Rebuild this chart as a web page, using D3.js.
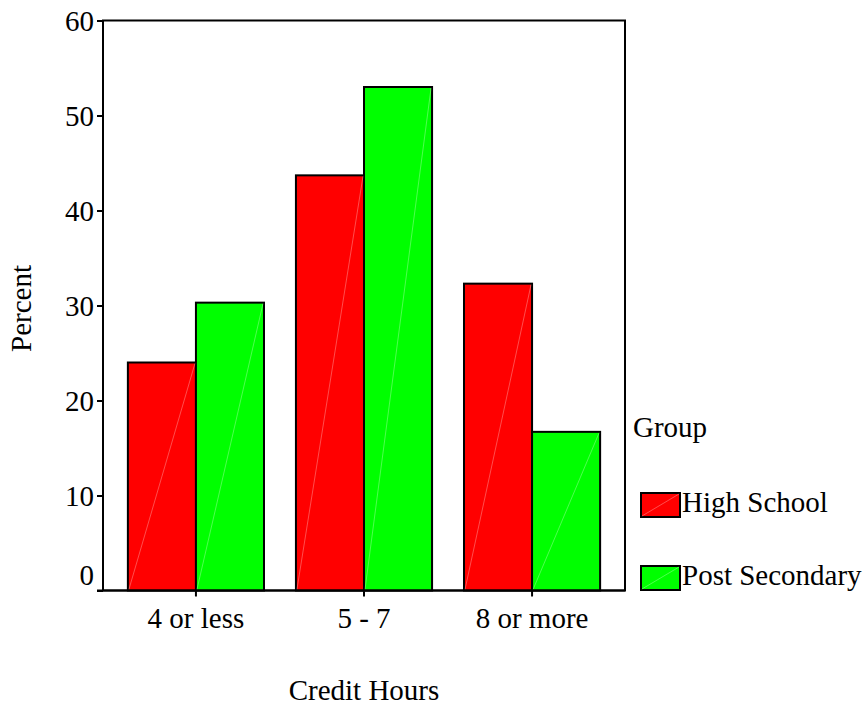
<!DOCTYPE html>
<html><head><meta charset="utf-8">
<script src="https://cdn.jsdelivr.net/npm/d3@7"></script>
<style>body{margin:0;background:#fff}svg{display:block}text{font-family:"Liberation Serif","Times New Roman",serif;fill:#000}</style>
</head><body><svg id="c" width="864" height="707"></svg>
<script>
const categories = ["4 or less", "5 - 7", "8 or more"];
const groups = ["High School", "Post Secondary"];
const highSchool = [24.0, 43.7, 32.3];
const postSecondary = [30.3, 53.0, 16.7];
const yTicks = [0, 10, 20, 30, 40, 50, 60];
const colors = ["#ff0000", "#00ff00"];

const svg = d3.select("#c");
const L = 103, R = 625, T = 20.5, B = 590.5;
const fs = 29;

const x = d3.scaleBand().domain(categories).range([L, R]).paddingInner(0.19).paddingOuter(0.148);
const xi = d3.scaleBand().domain(groups).range([0, x.bandwidth()]);
const y = d3.scaleLinear().domain([0, 60]).range([B, T]);

const series = [highSchool, postSecondary];
const data = [];
categories.forEach((c, i) => groups.forEach((g, j) => data.push({c, g, j, v: series[j][i]})));

// frame
svg.append("rect").attr("x", L).attr("y", T).attr("width", R - L).attr("height", B - T)
  .attr("fill", "none").attr("stroke", "#000").attr("stroke-width", 2);

// bars
const bars = svg.append("g");
bars.selectAll("rect").data(data).join("rect")
  .attr("x", d => x(d.c) + xi(d.g))
  .attr("y", d => y(d.v))
  .attr("width", xi.bandwidth())
  .attr("height", d => y(0) - y(d.v))
  .attr("fill", d => colors[d.j])
  .attr("stroke", "#000").attr("stroke-width", 2);
bars.selectAll("line").data(data).join("line")
  .attr("x1", d => x(d.c) + xi(d.g) + 1)
  .attr("y1", y(0) - 1)
  .attr("x2", d => x(d.c) + xi(d.g) + xi.bandwidth() - 1)
  .attr("y2", d => y(d.v) + 1)
  .attr("stroke", "#fff").attr("stroke-opacity", 0.3).attr("stroke-width", 1);

// y axis
const yAxis = d3.axisLeft(y).tickValues(yTicks).tickSize(6).tickPadding(3).tickFormat(d3.format("d"));
const gy = svg.append("g").attr("transform", `translate(${L},0)`).call(yAxis);
gy.select(".domain").remove();
gy.selectAll(".tick line").attr("stroke", "#000").attr("stroke-width", 2);
gy.selectAll(".tick text").attr("font-size", fs).attr("font-family", "Liberation Serif")
  .attr("dy", d => d === 0 ? "-0.2em" : "0.33em");

// x axis
const xAxis = d3.axisBottom(x).tickSize(6).tickPadding(5);
const gx = svg.append("g").attr("transform", `translate(0,${B})`).call(xAxis);
gx.select(".domain").remove();
gx.selectAll(".tick line").attr("stroke", "#000").attr("stroke-width", 2);
gx.selectAll(".tick text").attr("font-size", fs).attr("font-family", "Liberation Serif").attr("dy", "0.93em");
svg.append("line").attr("x1", L - 6).attr("x2", R).attr("y1", B).attr("y2", B)
  .attr("stroke", "#000").attr("stroke-width", 2);

// axis titles
svg.append("text").attr("transform", `translate(31,${(T + B) / 2 + 3}) rotate(-90)`)
  .attr("text-anchor", "middle").attr("font-size", fs).text("Percent");
svg.append("text").attr("x", (L + R) / 2).attr("y", 700)
  .attr("text-anchor", "middle").attr("font-size", fs).text("Credit Hours");

// legend
svg.append("text").attr("x", 633).attr("y", 437).attr("font-size", fs).text("Group");
const lg = svg.append("g").selectAll("g").data(groups).join("g")
  .attr("transform", (d, i) => `translate(641,${493 + i * 73})`);
lg.append("rect").attr("width", 39).attr("height", 24)
  .attr("fill", (d, i) => colors[i]).attr("stroke", "#000").attr("stroke-width", 2);
lg.append("line").attr("x1", 1).attr("y1", 23).attr("x2", 38).attr("y2", 1)
  .attr("stroke", "#fff").attr("stroke-opacity", 0.3);
lg.append("text").attr("x", 41).attr("y", 19).attr("font-size", fs).text(d => d);
</script></body></html>
